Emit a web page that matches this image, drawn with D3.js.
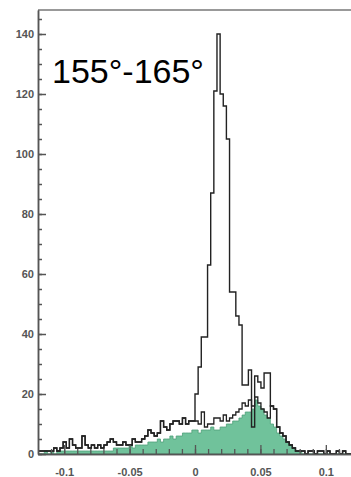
<!DOCTYPE html>
<html>
<head>
<meta charset="utf-8">
<script src="https://cdn.jsdelivr.net/npm/d3@7"></script>
<style>
  body { margin: 0; background: #fff; }
  svg { display: block; }
  .tick text { font-family: "Liberation Sans", Arial, sans-serif; font-weight: bold; font-size: 11px; fill: #555; }
</style>
</head>
<body>
<div id="chart"></div>
<script>
const width = 351, height = 477;

// histogram: 100 bins from -0.12 to 0.12
const binLo = -0.12, binWidth = 0.0024;

// all events (tall black outline)
const totalCounts = [
  1, 1, 1, 1, 1, 2, 1, 2, 4, 2,
  5, 3, 2, 2, 6, 3, 2, 3, 2, 3,
  2, 3, 4, 5, 4, 3, 3, 4, 3, 3,
  5, 4, 4, 5, 6, 8, 7, 6, 7, 11,
  9, 8, 10, 11, 11, 10, 12, 10, 11, 11,
  20, 29, 39, 39, 63, 87, 121, 140, 120, 116,
  105, 54, 54, 46, 43, 23, 23, 28, 9, 26,
  24, 22, 27, 27, 16, 15, 9, 7, 6, 4,
  3, 2, 1, 1, 1, 0, 1, 1, 0, 1,
  1, 0, 1, 0, 0, 1, 0, 1, 0, 0
];

// lower black outline
const bgCounts = [
  1, 1, 1, 1, 1, 2, 1, 2, 4, 2,
  5, 3, 2, 2, 6, 3, 2, 3, 2, 3,
  2, 3, 4, 5, 4, 3, 3, 4, 3, 3,
  5, 4, 4, 5, 6, 8, 7, 6, 7, 11,
  9, 8, 10, 11, 11, 10, 12, 10, 11, 11,
  11, 10, 14, 9, 10, 10, 12, 12, 11, 13,
  11, 12, 13, 14, 15, 17, 16, 18, 16, 19,
  17, 15, 14, 12, 16, 15, 9, 7, 6, 4,
  3, 2, 1, 1, 1, 0, 1, 1, 0, 1,
  1, 0, 1, 0, 0, 1, 0, 1, 0, 0
];

// green filled histogram
const greenCounts = [
  0, 0, 1, 0, 1, 0, 1, 1, 1, 1,
  1, 1, 1, 1, 1, 1, 1, 1, 1, 1,
  1, 1, 1, 1, 2, 2, 2, 2, 2, 3,
  2, 3, 3, 3, 3, 4, 4, 4, 5, 4,
  5, 5, 6, 5, 6, 6, 7, 7, 7, 8,
  8, 7, 8, 8, 8, 9, 8, 8, 9, 9,
  10, 10, 11, 11, 12, 13, 14, 14, 15, 18,
  16, 15, 13, 12, 10, 9, 7, 6, 5, 4,
  3, 2, 1, 1, 0, 0, 0, 0, 0, 0,
  0, 0, 0, 0, 0, 0, 0, 0, 0, 0
];

const yMajor = [0, 20, 40, 60, 80, 100, 120, 140];
const xMajor = [-0.1, -0.05, 0, 0.05, 0.1];
const xLabels = ["-0.1", "-0.05", "0", "0.05", "0.1"];
const title = "155°-165°";

const x = d3.scaleLinear().domain([-0.12, 0.12]).range([38, 352]);
const y = d3.scaleLinear().domain([0, 148]).range([454, 10]);

const svg = d3.select("#chart").append("svg")
  .attr("width", width).attr("height", height);

function steps(counts) {
  let pts = counts.map((c, i) => [binLo + i * binWidth, c]);
  pts.push([binLo + counts.length * binWidth, counts[counts.length - 1]]);
  return pts;
}

let area = d3.area()
  .curve(d3.curveStepAfter)
  .x(d => x(d[0]))
  .y0(y(0))
  .y1(d => y(d[1]));

let line = d3.line()
  .curve(d3.curveStepAfter)
  .x(d => x(d[0]))
  .y(d => y(d[1]));

svg.append("path")
  .datum(steps(greenCounts))
  .attr("fill", "#70c29b")
  .attr("stroke", "#4f9f78")
  .attr("stroke-width", 0.8)
  .attr("d", area);

svg.append("path")
  .datum(steps(bgCounts))
  .attr("fill", "none")
  .attr("stroke", "#222")
  .attr("stroke-width", 1.3)
  .attr("d", line);

svg.append("path")
  .datum(steps(totalCounts))
  .attr("fill", "none")
  .attr("stroke", "#222")
  .attr("stroke-width", 1.4)
  .attr("d", line);

// frame top
svg.append("line")
  .attr("x1", x.range()[0]).attr("x2", width)
  .attr("y1", y(148)).attr("y2", y(148))
  .attr("stroke", "#777").attr("stroke-width", 1.5);

// y axis, inward ticks
svg.append("g")
  .attr("transform", `translate(${x.range()[0]},0)`)
  .call(d3.axisLeft(y).tickValues(d3.range(0, 146, 5)).tickSize(-4).tickSizeOuter(0).tickFormat(""))
  .call(g => g.selectAll("line,path").attr("stroke", "#555").attr("stroke-width", 1.5));

svg.append("g")
  .attr("transform", `translate(${x.range()[0]},0)`)
  .call(d3.axisLeft(y).tickValues(yMajor).tickSize(-8).tickSizeOuter(0).tickPadding(4))
  .call(g => g.selectAll("line,path").attr("stroke", "#555").attr("stroke-width", 1.5));

// x axis, inward ticks
svg.append("g")
  .attr("transform", `translate(0,${y(0)})`)
  .call(d3.axisBottom(x).tickValues(d3.range(-11, 12).map(d => d / 100)).tickSize(-5).tickSizeOuter(0).tickFormat(""))
  .call(g => g.selectAll("line,path").attr("stroke", "#555").attr("stroke-width", 1.3));

svg.append("g")
  .attr("transform", `translate(0,${y(0)})`)
  .call(d3.axisBottom(x).tickValues(xMajor).tickSize(-9).tickSizeOuter(0).tickPadding(14)
    .tickFormat((d, i) => xLabels[i]))
  .call(g => g.selectAll("line,path").attr("stroke", "#555").attr("stroke-width", 1.3));

svg.append("text")
  .attr("x", 52).attr("y", 83)
  .attr("font-family", "Liberation Sans, Arial, sans-serif")
  .attr("font-size", 34)
  .attr("fill", "#000")
  .text(title);
</script>
</body>
</html>
